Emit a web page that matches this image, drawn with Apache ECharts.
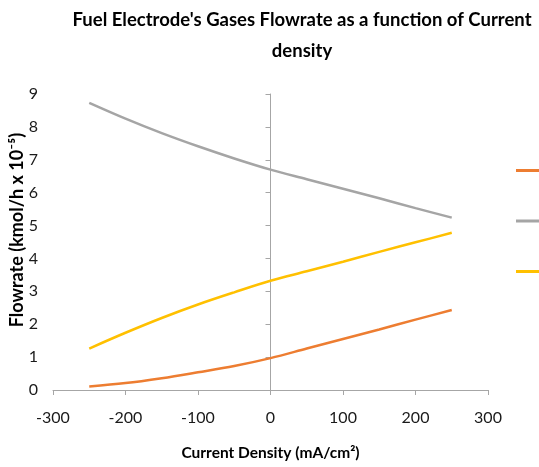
<!DOCTYPE html>
<html>
<head>
<meta charset="utf-8">
<script src="https://cdn.jsdelivr.net/npm/echarts@6/dist/echarts.min.js"></script>
<style>
html,body{margin:0;padding:0;background:#fff;}
#chart{width:539px;height:467px;}
</style>
</head>
<body>
<div id="chart"></div>
<script>
var xValues = [-250, -200, -150, -100, -50, 0, 50, 100, 150, 200, 250];
var seriesNames = ['Series1', 'Series2', 'Series3'];
var orangeValues = [0.11, 0.21, 0.36, 0.54, 0.73, 0.97, 1.26, 1.55, 1.84, 2.14, 2.43];
var grayValues = [8.73, 8.25, 7.81, 7.41, 7.04, 6.70, 6.41, 6.12, 5.83, 5.53, 5.24];
var yellowValues = [1.26, 1.74, 2.19, 2.60, 2.97, 3.32, 3.61, 3.90, 4.20, 4.49, 4.78];
var colors = ['#ED7D31', '#A5A5A5', '#FFC000'];
var titleText = "Fuel Electrode's Gases Flowrate as a function of Current\ndensity";
var xName = 'Current Density (mA/cm²)';
var yName = 'Flowrate (kmol/h x 10⁻⁵)';

function pairs(vals) {
  return xValues.map(function (x, i) { return [x, vals[i]]; });
}

var FONT = 'Lato';
var chart = echarts.init(document.getElementById('chart'), null, {renderer: 'canvas'});
var allVals = [orangeValues, grayValues, yellowValues];
var option = {
  animation: false,
  backgroundColor: '#ffffff',
  title: {
    text: titleText,
    left: 297,
    top: 0,
    textAlign: 'center',
    textStyle: {fontFamily: FONT, fontWeight: 'bold', fontSize: 18.5, lineHeight: 31, color: '#000'}
  },
  legend: {
    orient: 'vertical',
    left: 511,
    top: 164,
    itemGap: 47.5,
    itemWidth: 27,
    itemHeight: 3,
    icon: 'rect',
    formatter: function () { return ''; },
    textStyle: {fontSize: 12, lineHeight: 14},
    data: seriesNames
  },
  grid: {left: 53, right: 51, top: 94, bottom: 77, containLabel: false, outerBoundsMode: 'none'},
  xAxis: {
    type: 'value', min: -300, max: 300, interval: 100,
    name: xName, nameLocation: 'middle', nameGap: 55,
    nameTextStyle: {fontFamily: FONT, fontWeight: 'bold', fontSize: 15.5, color: '#000'},
    axisLine: {lineStyle: {color: '#A6A6A6', width: 1}},
    axisTick: {show: true, length: 5, lineStyle: {color: '#A6A6A6'}},
    axisLabel: {fontFamily: FONT, fontSize: 16, color: '#1a1a1a', margin: 20},
    splitLine: {show: false}
  },
  yAxis: [{
    type: 'value', min: 0, max: 9, interval: 1, position: 'left',
    axisLine: {show: true, onZero: true, lineStyle: {color: '#A6A6A6', width: 1}},
    axisTick: {show: true, length: 5, lineStyle: {color: '#A6A6A6'}},
    axisLabel: {show: false},
    splitLine: {show: false}
  }, {
    type: 'value', min: 0, max: 9, interval: 1, position: 'left',
    name: yName, nameLocation: 'middle', nameGap: 27, nameMoveOverlap: false,
    nameTextStyle: {fontFamily: FONT, fontWeight: 'bold', fontSize: 18, color: '#000', padding: [0, 0, 0, 24]},
    axisLine: {show: false, onZero: false},
    axisTick: {show: false},
    axisLabel: {fontFamily: FONT, fontSize: 16, color: '#1a1a1a', margin: 15},
    splitLine: {show: false}
  }],
  series: seriesNames.map(function (n, i) {
    return {
      name: n, type: 'line', yAxisIndex: 0, smooth: 0.35, showSymbol: false, symbol: 'none',
      data: pairs(allVals[i]),
      lineStyle: {color: colors[i], width: 2.5},
      itemStyle: {color: colors[i]}
    };
  })
};
chart.setOption(option);
</script>
</body>
</html>
